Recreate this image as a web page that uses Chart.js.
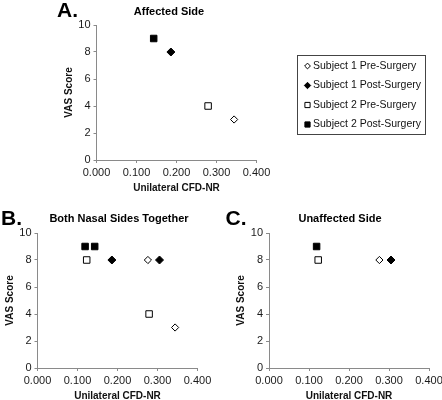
<!DOCTYPE html>
<html>
<head>
<meta charset="utf-8">
<script src="https://cdn.jsdelivr.net/npm/chart.js@4.4.1/dist/chart.umd.min.js"></script>
<style>
  html, body { margin: 0; padding: 0; background: #fff; overflow: hidden; }
  #wrap { position: relative; width: 442px; height: 400px; overflow: hidden; }
  canvas { position: absolute; }
</style>
</head>
<body>
<div id="wrap">
  <canvas id="chart-a" width="442" height="200" style="left:0;top:0"></canvas>
  <canvas id="chart-b" width="221" height="204" style="left:0;top:200px"></canvas>
  <canvas id="chart-c" width="221" height="204" style="left:221px;top:200px"></canvas>
</div>
<script>
// data ==============================================================//

const seriesLabels = ['Subject 1 Pre-Surgery', 'Subject 1 Post-Surgery', 'Subject 2 Pre-Surgery', 'Subject 2 Post-Surgery'];

// affected side (panel A)
const affectedCfd = [0.344, 0.186, 0.279, 0.143];
const affectedVas = [3, 8, 4, 9];

// unaffected side (panel C)
const unaffectedCfd = [0.276, 0.305, 0.123, 0.119];
const unaffectedVas = [8, 8, 8, 9];

const xTickLabels = ['0.000', '0.100', '0.200', '0.300', '0.400'];
const yTickLabels = ['0', '2', '4', '6', '8', '10'];

// styles ============================================================//

const FONT = '"Liberation Sans", Arial, sans-serif';
const AXIS_GREY = '#8a8a8a';
Chart.defaults.font.family = FONT;
Chart.defaults.color = '#1a1a1a';

const markerStyles = [
    { pointStyle: 'rectRot', fill: '#fff', radius: 3.6 },
    { pointStyle: 'rectRot', fill: '#000', radius: 4 },
    { pointStyle: 'rect', fill: '#fff', radius: 4.6 },
    { pointStyle: 'rect', fill: '#000', radius: 4.6 }
];

function makeDataset(i, xs, ys) {
    const st = markerStyles[i];
    return {
        label: seriesLabels[i],
        data: xs.map((x, k) => ({ x: x, y: ys[k] })),
        pointStyle: st.pointStyle,
        backgroundColor: st.fill,
        borderColor: '#000',
        borderWidth: 1,
        pointRadius: st.radius,
        pointHoverRadius: st.radius
    };
}

// plugins ===========================================================//

const panelText = {
    id: 'panelText',
    afterDraw(chart, args, opts) {
        const ctx = chart.ctx;
        ctx.save();
        ctx.fillStyle = '#000';
        ctx.textAlign = 'center';
        ctx.textBaseline = 'middle';
        ctx.font = 'bold 21px ' + FONT;
        ctx.fillText(opts.letter, opts.letterX, opts.letterY);
        ctx.font = 'bold 11px ' + FONT;
        ctx.fillText(opts.title, opts.titleX, opts.titleY);
        ctx.restore();
    }
};

const boxLegend = {
    id: 'boxLegend',
    afterDraw(chart, args, opts) {
        if (!opts.show) return;
        const ctx = chart.ctx;
        ctx.save();
        ctx.strokeStyle = '#444';
        ctx.lineWidth = 1;
        ctx.strokeRect(opts.left + 0.5, opts.top + 0.5, opts.width, opts.height);
        ctx.font = '10.5px ' + FONT;
        ctx.textAlign = 'left';
        ctx.textBaseline = 'middle';
        chart.data.datasets.forEach((ds, i) => {
            const y = opts.top + opts.firstRow + i * opts.rowGap;
            ctx.fillStyle = ds.backgroundColor;
            ctx.strokeStyle = ds.borderColor;
            ctx.lineWidth = 1;
            Chart.helpers.drawPoint(ctx, {
                pointStyle: ds.pointStyle,
                radius: ds.pointRadius * 0.8,
                rotation: 0,
                borderWidth: 1
            }, opts.markerX, y);
            ctx.fillStyle = '#111';
            ctx.fillText(ds.label, opts.textX, y);
        });
        ctx.restore();
    }
};

// chart builder =====================================================//

function makeConfig(datasets, box, panel, legend) {
    // box: canvas size, plot area and axis title centres (canvas px)
    const padLeft = box.yTitleX - 6;
    const yWidth = box.left - padLeft;
    const xBottom = box.xTitleY + 6;
    const xHeight = xBottom - box.bottom;

    return {
        type: 'scatter',
        data: { datasets: datasets },
        options: {
            responsive: false,
            animation: false,
            events: [],
            layout: {
                padding: {
                    left: padLeft,
                    right: box.w - box.right,
                    top: box.top,
                    bottom: box.h - xBottom
                }
            },
            scales: {
                x: {
                    type: 'linear',
                    min: 0,
                    max: 0.4,
                    ticks: {
                        stepSize: 0.1,
                        autoSkip: false,
                        maxRotation: 0,
                        padding: 3,
                        font: { size: 11 },
                        callback: (v, i) => xTickLabels[i]
                    },
                    grid: { drawOnChartArea: false, tickLength: 3, color: AXIS_GREY },
                    border: { color: AXIS_GREY },
                    title: {
                        display: true,
                        text: 'Unilateral CFD-NR',
                        font: { size: 10, weight: 'bold' },
                        padding: 0,
                        color: '#111'
                    },
                    afterFit(s) {
                        s.height = xHeight;
                        s.paddingLeft = 0;
                        s.paddingRight = 0;
                    }
                },
                y: {
                    type: 'linear',
                    min: 0,
                    max: 10,
                    ticks: {
                        stepSize: 2,
                        padding: 3,
                        font: { size: 11 },
                        callback: (v, i) => yTickLabels[i]
                    },
                    grid: { drawOnChartArea: false, tickLength: 3, color: AXIS_GREY },
                    border: { color: AXIS_GREY },
                    title: {
                        display: true,
                        text: 'VAS Score',
                        font: { size: 10, weight: 'bold' },
                        padding: 0,
                        color: '#111'
                    },
                    afterFit(s) {
                        s.width = yWidth;
                        s.paddingTop = 0;
                        s.paddingBottom = 0;
                    }
                }
            },
            plugins: {
                legend: { display: false },
                tooltip: { enabled: false },
                panelText: panel,
                boxLegend: legend || { show: false }
            }
        },
        plugins: [panelText, boxLegend]
    };
}

// A. Affected side ==================================================//

const affectedSets = seriesLabels.map((_, i) => makeDataset(i, [affectedCfd[i]], [affectedVas[i]]));

new Chart(document.getElementById('chart-a'), makeConfig(
    affectedSets,
    { w: 442, h: 200, left: 96.5, right: 256.5, top: 25, bottom: 160, yTitleX: 69, xTitleY: 188 },
    { letter: 'A.', letterX: 67.5, letterY: 11, title: 'Affected Side', titleX: 169, titleY: 11.5 },
    { show: true, left: 297, top: 55, width: 128, height: 79, firstRow: 11, rowGap: 19.5, markerX: 307.5, textX: 313 }
));

// B. Both nasal sides ===============================================//

const bothSets = seriesLabels.map((_, i) => makeDataset(i,
    [affectedCfd[i], unaffectedCfd[i]],
    [affectedVas[i], unaffectedVas[i]]));

new Chart(document.getElementById('chart-b'), makeConfig(
    bothSets,
    { w: 221, h: 204, left: 37.5, right: 197.5, top: 33, bottom: 168, yTitleX: 10.3, xTitleY: 196 },
    { letter: 'B.', letterX: 11.5, letterY: 19, title: 'Both Nasal Sides Together', titleX: 119, titleY: 19 }
));

// C. Unaffected side ================================================//

const unaffectedSets = seriesLabels.map((_, i) => makeDataset(i, [unaffectedCfd[i]], [unaffectedVas[i]]));

new Chart(document.getElementById('chart-c'), makeConfig(
    unaffectedSets,
    { w: 221, h: 204, left: 48, right: 208, top: 33, bottom: 168, yTitleX: 20.7, xTitleY: 196 },
    { letter: 'C.', letterX: 15, letterY: 19, title: 'Unaffected Side', titleX: 119, titleY: 19 }
));
</script>
</body>
</html>
